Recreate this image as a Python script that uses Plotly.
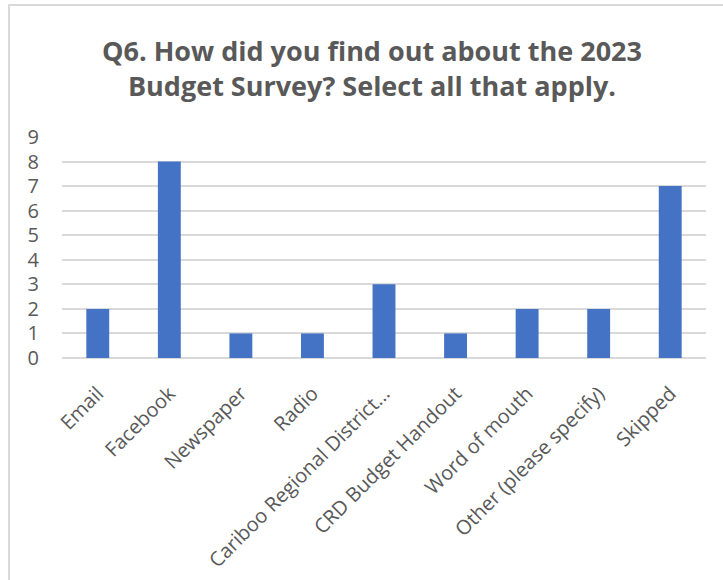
import plotly.graph_objects as go

categories = ["Email", "Facebook", "Newspaper", "Radio", "Cariboo Regional District...",
              "CRD Budget Handout", "Word of mouth", "Other (please specify)", "Skipped"]
values = [2, 8, 1, 1, 3, 1, 2, 2, 7]
y_ticks = [0, 1, 2, 3, 4, 5, 6, 7, 8, 9]

title_text = "Q6. How did you find out about the 2023<br>Budget Survey? Select all that apply."

W, H = 723, 580
L, R, T, B = 62, 17, 137, 222
pw, ph = W - L - R, H - T - B

fig = go.Figure(go.Bar(x=categories, y=values, marker_color="#4472C4", width=0.32,
                       marker_line_width=0))

fig.update_layout(
    width=W, height=H,
    margin=dict(l=L, r=R, t=T, b=B, autoexpand=False),
    paper_bgcolor="white", plot_bgcolor="white",
    showlegend=False,
    title=dict(text=title_text, x=372 / W, xref="container",
               y=1 - 61 / H, yref="container", xanchor="center", yanchor="middle",
               font=dict(family="Open Sans", size=27, color="#595959", weight="bold")),
    font=dict(family="Open Sans", color="#595959"),
)
fig.update_xaxes(tickangle=-45, tickfont=dict(size=20, color="#595959"),
                 showline=False, ticks="", showgrid=False, ticklabelstandoff=19)
fig.update_yaxes(range=[0, 9], tickvals=y_ticks, tickfont=dict(size=20, color="#595959"),
                 showgrid=True, gridcolor="#d9d9d9", gridwidth=1.5,
                 zeroline=True, zerolinecolor="#d9d9d9", zerolinewidth=1.5,
                 ticks="", ticklabelstandoff=22)

# outer chart border
fig.add_shape(type="rect", xref="paper", yref="paper",
              x0=(9 - L) / pw, x1=(W + 20 - L) / pw,
              y0=-(H + 20 - T - ph) / ph, y1=(H - B - 5) / ph,
              line=dict(color="#d9d9d9", width=2), fillcolor="rgba(0,0,0,0)", layer="below")

fig.write_html("out.html", config={"displayModeBar": False},
               post_script="document.body.style.margin='0';document.body.style.overflow='hidden';")
